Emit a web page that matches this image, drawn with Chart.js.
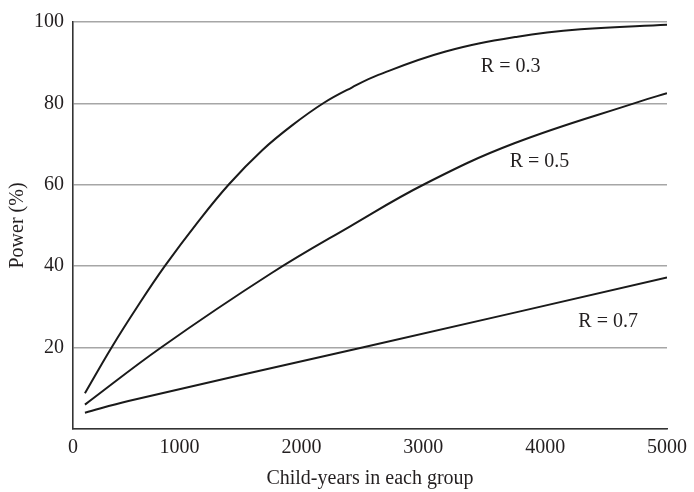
<!DOCTYPE html>
<html>
<head>
<meta charset="utf-8">
<script src="https://cdn.jsdelivr.net/npm/chart.js@4/dist/chart.umd.min.js"></script>
<style>
  html, body { margin: 0; padding: 0; background: #fff; }
  #wrap { width: 694px; height: 492px; }
</style>
</head>
<body>
<div id="wrap"><canvas id="c" width="694" height="492"></canvas></div>
<script>
// ---- data ----
const seriesNames = ['R = 0.3', 'R = 0.5', 'R = 0.7'];

const xR03 = [223, 443, 661, 878, 1151, 1407, 1678, 1923, 2182, 2413, 2631, 3176, 3774, 4291, 5000];
const yR03 = [8.8, 20.1, 30.4, 40.0, 50.9, 60.2, 68.5, 74.6, 80.1, 83.9, 87.0, 92.7, 96.4, 98.2, 99.3];

const xR05 = [223, 851, 1749, 2400, 3012, 3747, 4780, 5000];
const yR05 = [6.0, 20.1, 38.2, 49.8, 60.2, 70.2, 80.5, 82.5];

const xR07 = [223, 580, 2500, 5000];
const yR07 = [4.0, 6.9, 20.0, 37.2];

const xTickValues = [125, 1000, 2000, 3000, 4000, 5000];
const xTickLabels = ['0', '1000', '2000', '3000', '4000', '5000'];
const yTickValues = [0, 20, 40, 60, 80, 100];
const yTickLabels = ['', '20', '40', '60', '80', '100'];

const xTitle = 'Child-years in each group';
const yTitle = 'Power (%)';

// label anchor values (in data units) for the curve names
const labelX = [3717, 3954, 4517];
const labelY = [89.1, 65.7, 26.4];

// ---- build ----
const FONT = "'Liberation Serif', 'Times New Roman', serif";
const TEXT = '#231f20';
const pts = (xs, ys) => xs.map((x, i) => ({ x, y: ys[i] }));
const lineStyle = {
  borderColor: '#1a1a1a', borderWidth: 2, pointRadius: 0,
  tension: 0.4, fill: false
};

const curveLabels = {
  id: 'curveLabels',
  afterDatasetsDraw(chart) {
    const { ctx, scales: { x, y } } = chart;
    ctx.save();
    ctx.font = '20px ' + FONT;
    ctx.fillStyle = TEXT;
    ctx.textAlign = 'center';
    ctx.textBaseline = 'middle';
    seriesNames.forEach((n, i) => {
      ctx.fillText(n, x.getPixelForValue(labelX[i]), y.getPixelForValue(labelY[i]));
    });
    ctx.restore();
  }
};

new Chart(document.getElementById('c'), {
  type: 'line',
  data: {
    datasets: [
      Object.assign({ label: seriesNames[0], data: pts(xR03, yR03) }, lineStyle),
      Object.assign({ label: seriesNames[1], data: pts(xR05, yR05) }, lineStyle),
      Object.assign({ label: seriesNames[2], data: pts(xR07, yR07) }, lineStyle)
    ]
  },
  options: {
    responsive: false,
    animation: false,
    devicePixelRatio: 1,
    layout: { padding: { top: 22, right: 23, left: 0, bottom: 0 } },
    plugins: { legend: { display: false }, tooltip: { enabled: false } },
    scales: {
      x: {
        type: 'linear',
        min: xTickValues[0],
        max: xTickValues[xTickValues.length - 1],
        afterBuildTicks: (s) => { s.ticks = xTickValues.map(v => ({ value: v })); },
        afterFit: (s) => { s.height = 63; },
        grid: { display: false, drawTicks: false },
        border: { display: true, color: '#333', width: 1.6 },
        ticks: {
          padding: 7,
          color: TEXT,
          font: { family: FONT, size: 20 },
          maxRotation: 0,
          autoSkip: false,
          callback: (v) => { const i = xTickValues.indexOf(v); return i >= 0 ? xTickLabels[i] : ''; }
        },
        title: {
          display: true, text: xTitle, color: TEXT,
          font: { family: FONT, size: 20 },
          padding: { top: 0, bottom: 1 }
        }
      },
      y: {
        type: 'linear',
        min: 0, max: 100,
        afterBuildTicks: (s) => { s.ticks = yTickValues.map(v => ({ value: v })); },
        afterFit: (s) => { s.width = 73; },
        grid: { display: true, drawTicks: false, color: '#a6a6a6', lineWidth: 1.5 },
        border: { display: true, color: '#333', width: 1.6 },
        ticks: {
          padding: 9,
          color: TEXT,
          font: { family: FONT, size: 20 },
          autoSkip: false,
          callback: (v) => { const i = yTickValues.indexOf(v); return i >= 0 ? yTickLabels[i] : ''; }
        },
        title: {
          display: true, text: yTitle, color: TEXT,
          font: { family: FONT, size: 20 },
          padding: { top: 6, bottom: 0 }
        }
      }
    }
  },
  plugins: [curveLabels]
});
</script>
</body>
</html>
